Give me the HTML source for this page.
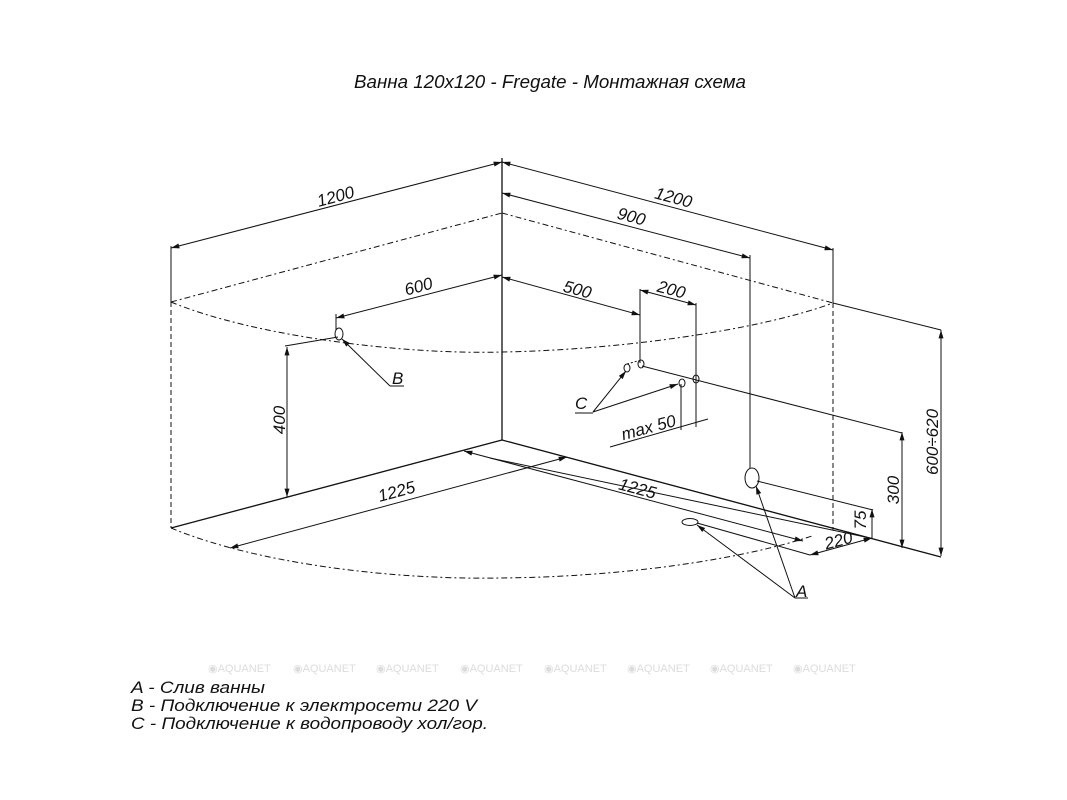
<!DOCTYPE html>
<html><head><meta charset="utf-8"><style>
html,body{margin:0;padding:0;background:#fff;}
svg{display:block;}
text{font-family:"Liberation Sans",sans-serif;font-style:italic;fill:#111;}
text.wm{fill:#dcdcdc;font-style:normal;}
</style></head><body>
<svg width="1067" height="800" viewBox="0 0 1067 800" xmlns="http://www.w3.org/2000/svg">
<defs>
<marker id="a" viewBox="0 0 10 6" refX="10" refY="3" markerWidth="9" markerHeight="5" orient="auto-start-reverse" markerUnits="userSpaceOnUse"><path d="M0,0 L10,3 L0,6 z" fill="#111"/></marker>
</defs>
<text x="354" y="88" font-size="18" textLength="392" lengthAdjust="spacingAndGlyphs">Ванна 120x120 - Fregate - Монтажная схема</text>

<g stroke="#111" stroke-width="1" fill="none">
<line x1="502" y1="158" x2="502" y2="440" stroke-width="1.3"/>
<line x1="171" y1="246" x2="171" y2="302"/>
<line x1="171" y1="302" x2="171" y2="528" stroke-dasharray="5,3"/>
<line x1="833" y1="248" x2="833" y2="303"/>
<line x1="833" y1="303" x2="833" y2="530" stroke-dasharray="5,3"/>
<line x1="171" y1="248" x2="502" y2="162" marker-start="url(#a)" marker-end="url(#a)"/>
<line x1="502" y1="162" x2="833" y2="250" marker-start="url(#a)" marker-end="url(#a)"/>
<line x1="502" y1="193" x2="750" y2="258" marker-start="url(#a)" marker-end="url(#a)"/>
<line x1="750" y1="255" x2="750" y2="468"/>
<line x1="171" y1="302" x2="502" y2="213" stroke-dasharray="6,3,2,3"/>
<line x1="502" y1="213" x2="833" y2="303" stroke-dasharray="6,3,2,3"/>
<path d="M171,302 C250,335 400,355 502,352 C620,350 760,330 833,303" stroke-dasharray="6,3,2,3"/>
<line x1="502" y1="275" x2="336" y2="318" marker-start="url(#a)" marker-end="url(#a)"/>
<line x1="336" y1="314" x2="336" y2="330"/>
<ellipse cx="339" cy="334" rx="4" ry="6"/>
<line x1="342" y1="339" x2="390" y2="386" marker-start="url(#a)"/>
<line x1="390" y1="386" x2="404" y2="386"/>
<line x1="285" y1="346" x2="338" y2="337"/>
<line x1="287" y1="347" x2="287" y2="497" marker-start="url(#a)" marker-end="url(#a)"/>
<line x1="171" y1="528" x2="502" y2="440" stroke-width="1.3"/>
<line x1="502" y1="440" x2="941" y2="557" stroke-width="1.3"/>
<path d="M171,528 C260,565 400,580 500,578 C620,577 740,560 812,536" stroke-dasharray="6,3,2,3"/>
<line x1="230" y1="548" x2="567" y2="457" marker-start="url(#a)" marker-end="url(#a)"/>
<line x1="464" y1="451" x2="803" y2="541" marker-start="url(#a)" marker-end="url(#a)"/>
<line x1="490" y1="458" x2="870" y2="538"/>
<line x1="502" y1="277" x2="640" y2="315" marker-start="url(#a)" marker-end="url(#a)"/>
<line x1="640" y1="289" x2="640" y2="363"/>
<line x1="640" y1="290" x2="696" y2="305" marker-start="url(#a)" marker-end="url(#a)"/>
<line x1="696" y1="303" x2="696" y2="427"/>
<ellipse cx="641" cy="364" rx="3" ry="4"/>
<ellipse cx="627" cy="368" rx="3" ry="4"/>
<line x1="627" y1="364" x2="641" y2="360" stroke-dasharray="2,2"/>
<ellipse cx="696" cy="379" rx="3" ry="4"/>
<ellipse cx="682" cy="383" rx="3" ry="4"/>
<line x1="642" y1="366" x2="902" y2="433"/>
<line x1="593" y1="412" x2="626" y2="371" marker-end="url(#a)"/>
<line x1="593" y1="412" x2="678" y2="384" marker-end="url(#a)"/>
<line x1="575" y1="413" x2="593" y2="413"/>
<line x1="681" y1="384" x2="681" y2="430"/>
<line x1="610" y1="447" x2="708" y2="419"/>
<line x1="902" y1="432" x2="902" y2="548" marker-start="url(#a)" marker-end="url(#a)"/>
<line x1="833" y1="303" x2="941" y2="330"/>
<line x1="941" y1="330" x2="941" y2="556" marker-start="url(#a)" marker-end="url(#a)"/>
<ellipse cx="752" cy="478" rx="7" ry="10"/>
<line x1="757" y1="481" x2="873" y2="510"/>
<ellipse cx="690" cy="522" rx="8" ry="3.5"/>
<line x1="697" y1="523" x2="810" y2="555"/>
<line x1="810" y1="555" x2="872" y2="538" marker-start="url(#a)" marker-end="url(#a)"/>
<line x1="872" y1="509" x2="872" y2="538" marker-start="url(#a)"/>
<line x1="795" y1="598" x2="697" y2="525" marker-end="url(#a)"/>
<line x1="795" y1="598" x2="756" y2="486" marker-end="url(#a)"/>
<line x1="795" y1="598" x2="808" y2="598"/>
</g>

<g font-size="17">
<text transform="translate(337,202) rotate(-15)" text-anchor="middle">1200</text>
<text transform="translate(672,203) rotate(15)" text-anchor="middle">1200</text>
<text transform="translate(630,222) rotate(15)" text-anchor="middle">900</text>
<text transform="translate(420,292) rotate(-15)" text-anchor="middle">600</text>
<text transform="translate(576,295) rotate(15)" text-anchor="middle">500</text>
<text transform="translate(670,295) rotate(15)" text-anchor="middle">200</text>
<text x="392" y="384">B</text>
<text x="575" y="409">C</text>
<text transform="translate(650,433) rotate(-15)" text-anchor="middle">max  50</text>
<text transform="translate(285,420) rotate(-90)" text-anchor="middle">400</text>
<text transform="translate(398,497) rotate(-15)" text-anchor="middle">1225</text>
<text transform="translate(636,494) rotate(15)" text-anchor="middle">1225</text>
<text transform="translate(899,490) rotate(-90)" text-anchor="middle">300</text>
<text transform="translate(938,442) rotate(-90)" text-anchor="middle">600÷620</text>
<text transform="translate(866,520) rotate(-90)" text-anchor="middle">75</text>
<text transform="translate(840,546) rotate(-15)" text-anchor="middle">220</text>
<text x="796" y="597">A</text>
</g>

<g font-size="11">
<text class="wm" x="208" y="672">◉AQUANET</text>
<text class="wm" x="293" y="672">◉AQUANET</text>
<text class="wm" x="376" y="672">◉AQUANET</text>
<text class="wm" x="460" y="672">◉AQUANET</text>
<text class="wm" x="544" y="672">◉AQUANET</text>
<text class="wm" x="627" y="672">◉AQUANET</text>
<text class="wm" x="710" y="672">◉AQUANET</text>
<text class="wm" x="793" y="672">◉AQUANET</text>
</g>

<g font-size="17">
<text x="131" y="693" textLength="134" lengthAdjust="spacingAndGlyphs">A - Слив ванны</text>
<text x="131" y="711" textLength="346" lengthAdjust="spacingAndGlyphs">B - Подключение к электросети 220 V</text>
<text x="131" y="729" textLength="357" lengthAdjust="spacingAndGlyphs">C - Подключение к водопроводу хол/гор.</text>
</g>
</svg>
</body></html>
